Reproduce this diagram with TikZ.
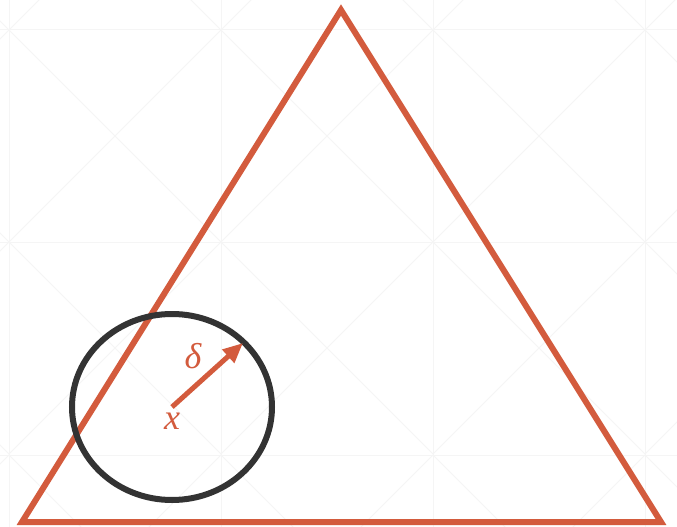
\documentclass[tikz,border=0pt]{standalone}
\usepackage{fontspec}
\newfontfamily\labfont{Liberation Serif}
\usetikzlibrary{arrows.meta}
\definecolor{tri}{HTML}{D35B3D}
\definecolor{ring}{HTML}{333333}
\definecolor{gridc}{HTML}{F5F5F5}
\tikzset{
  gridline/.style={draw=gridc, line width=1pt},
  triline/.style={draw=tri, line width=6pt, line join=miter},
  ringline/.style={draw=ring, line width=6pt},
  radius arrow/.style={draw=tri, line width=5pt, -{Triangle[length=20pt,width=17pt]}},
  lab/.style={text=tri, inner sep=0pt, font=\labfont\itshape\fontsize{36}{40}\selectfont}
}
\begin{document}
\begin{tikzpicture}[x=1pt,y=-1pt]
\useasboundingbox (0,0) rectangle (677,527);
\fill[white] (0,0) rectangle (677,527);
% faint background grid with diagonals
\begin{scope}
\clip (0,0) rectangle (677,527);
\foreach \gx in {9,221,433,645} { \draw[gridline] (\gx,-10) -- (\gx,540); }
\foreach \gy in {30,242,455} { \draw[gridline] (-10,\gy) -- (690,\gy); }
\foreach \gx in {-203,9,221,433,645} {
  \foreach \gy in {-182,30,242,455} {
    \draw[gridline] (\gx,\gy) -- ++(212,212);
    \draw[gridline] (\gx,\gy+212) -- ++(212,-212);
  }
}
\end{scope}
% triangle
\coordinate (A) at (341,10);
\coordinate (B) at (22,522);
\coordinate (C) at (661,522);
\draw[triline] (A) -- (B) -- (C) -- cycle;
% ball
\coordinate (xc) at (172,407);
\draw[ringline] (xc) ellipse [x radius=100, y radius=93];
% radius arrow
\coordinate (r) at (243,343);
\draw[radius arrow] (xc) -- (r);
\node[lab] (d) at (193,356) {δ};
\node[lab] (xl) at (172,421) {x};
\end{tikzpicture}
\end{document}
